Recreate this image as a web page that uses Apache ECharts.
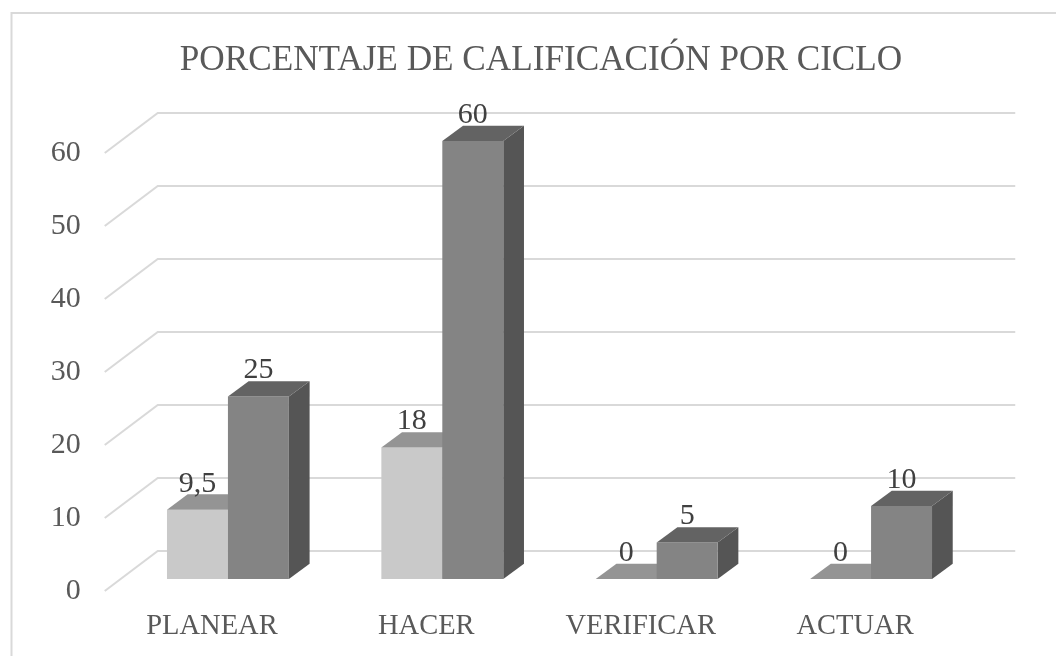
<!DOCTYPE html>
<html>
<head>
<meta charset="utf-8">
<script src="https://cdn.jsdelivr.net/npm/echarts@6/dist/echarts.min.js"></script>
<style>
html, body { margin: 0; padding: 0; background: #fff; }
#chart { width: 1056px; height: 656px; }
</style>
</head>
<body>
<div id="chart"></div>
<script>
var categories = ['PLANEAR', 'HACER', 'VERIFICAR', 'ACTUAR'];
var lightValues = [9.5, 18, 0, 0];
var darkValues = [25, 60, 5, 10];
var yTicks = [0, 10, 20, 30, 40, 50, 60];

var FONT = '"Liberation Serif", serif';
var BAR_FRAC = 61 / 214.5;   // ancho de barra respecto a la categoria

// profundidad del "3D" (pared del fondo y caras de la barra)
var WALL_DX = 53, WALL_DY = 40;
var BAR_DX = 16, BAR_DY = 12;
var FACE_DX = 20.7, FACE_DY = 15.3;

function poly(points, fill) {
    return { type: 'polygon', shape: { points: points }, style: { fill: fill } };
}

// barra con frente, cara superior y lateral
function bar3d(side, colors) {
    return function (params, api) {
        var cat = api.value(0), val = api.value(1);
        var band = api.size([1, 0])[0];
        var w = band * BAR_FRAC;
        var base = api.coord([cat, 0]);
        var top = api.coord([cat, val]);
        var x0 = base[0] + BAR_DX + (side < 0 ? -w : 0);
        var x1 = x0 + w;
        var yb = base[1] - BAR_DY;
        var yt = top[1] - BAR_DY;
        var kids = [];
        if (val > 0) {
            kids.push(poly([[x1, yt], [x1 + FACE_DX, yt - FACE_DY], [x1 + FACE_DX, yb - FACE_DY], [x1, yb]], colors.side));
            kids.push({ type: 'rect', shape: { x: x0, y: yt, width: w, height: yb - yt }, style: { fill: colors.front } });
        }
        kids.push(poly([[x0, yt], [x0 + FACE_DX, yt - FACE_DY], [x1 + FACE_DX, yt - FACE_DY], [x1, yt]], colors.top));
        kids.push({
            type: 'text',
            style: {
                x: (x0 + x1) / 2, y: yt - 26,
                text: String(val).replace('.', ','),
                font: '30px ' + FONT, fill: '#404040',
                align: 'center', verticalAlign: 'middle'
            }
        });
        return { type: 'group', children: kids };
    };
}

// lineas de division: diagonal en el suelo y horizontal en la pared
function wallLine(params, api) {
    var val = api.value(0);
    var size = api.size([1, 0])[0];
    var left = api.coord([0, val]);
    var sx = left[0] - size / 2, y = left[1];
    var ex = sx + size * categories.length;
    return {
        type: 'polyline',
        shape: { points: [[sx, y], [sx + WALL_DX, y - WALL_DY], [ex + WALL_DX, y - WALL_DY]] },
        style: { stroke: '#d9d9d9', lineWidth: 2, fill: null }
    };
}

var chart = echarts.init(document.getElementById('chart'));
chart.setOption({
    animation: false,
    backgroundColor: '#fff',
    title: {
        text: 'PORCENTAJE DE CALIFICACIÓN POR CICLO',
        left: 536, top: 38, textAlign: 'center',
        textStyle: { fontFamily: FONT, fontSize: 35.2, fontWeight: 'normal', color: '#595959' }
    },
    grid: { left: 104.75, top: 153, width: 857.5, height: 438 },
    xAxis: {
        type: 'category',
        data: categories,
        axisLine: { show: false },
        axisTick: { show: false },
        axisLabel: { margin: 21, fontFamily: FONT, fontSize: 28.5, color: '#595959' }
    },
    yAxis: {
        type: 'value',
        min: 0, max: 60, interval: 10,
        axisLine: { show: false },
        axisTick: { show: false },
        splitLine: { show: false },
        axisLabel: { margin: 24, fontFamily: FONT, fontSize: 30, color: '#595959' }
    },
    graphic: [{
        type: 'polyline',
        shape: { points: [[11.5, 656], [11.5, 13], [1056, 13]] },
        style: { stroke: '#d9d9d9', lineWidth: 2, fill: null }
    }],
    series: [
        {
            type: 'custom', renderItem: wallLine, silent: true,
            encode: { y: 0 },
            data: yTicks.map(function (t) { return [t]; })
        },
        {
            type: 'custom', silent: true,
            renderItem: bar3d(-1, { front: '#c9c9c9', top: '#949494', side: '#8a8a8a' }),
            encode: { x: 0, y: 1 },
            data: lightValues.map(function (v, i) { return [i, v]; })
        },
        {
            type: 'custom', silent: true,
            renderItem: bar3d(1, { front: '#848484', top: '#636363', side: '#555555' }),
            encode: { x: 0, y: 1 },
            data: darkValues.map(function (v, i) { return [i, v]; })
        }
    ]
});
</script>
</body>
</html>
